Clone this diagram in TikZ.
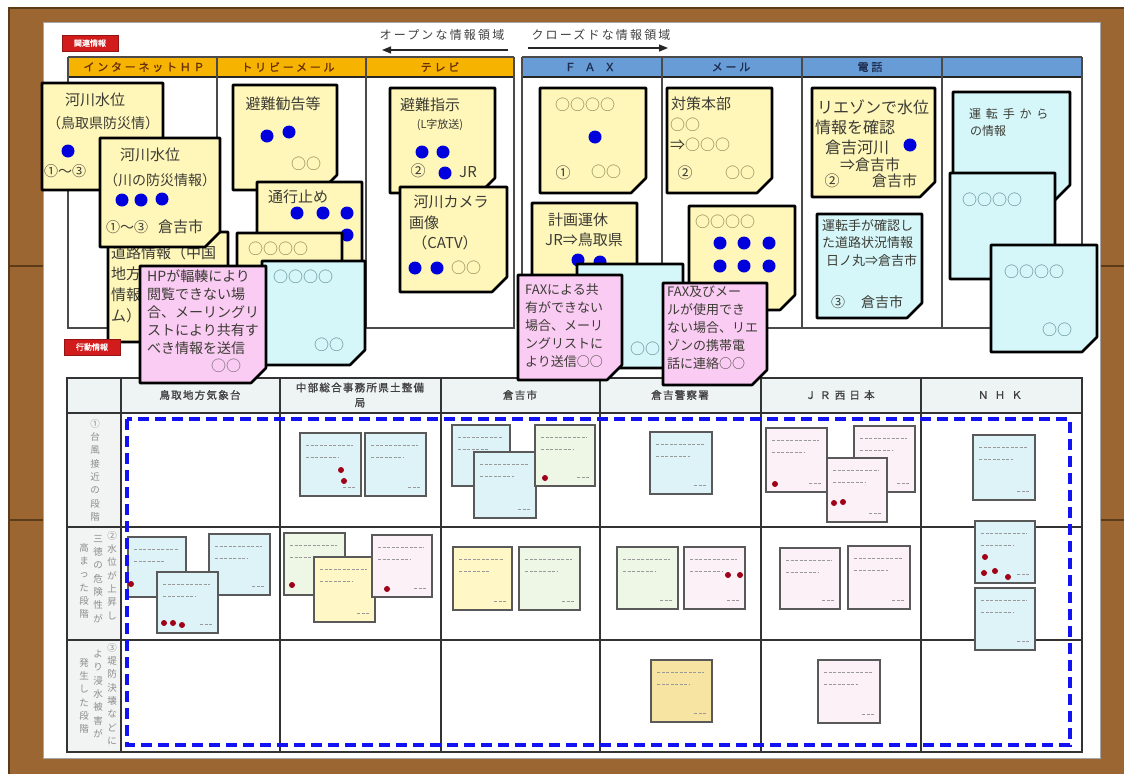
\documentclass[tikz,border=0pt]{standalone}
\usepackage{fontspec}
\setmainfont{Noto Sans CJK JP}
\newfontfamily\hdrf{Noto Sans CJK JP}[FakeBold=1.2]
\usetikzlibrary{arrows.meta}
\definecolor{corkbrown}{HTML}{9C6632}
\definecolor{corkdark}{HTML}{5E3B18}
\definecolor{noteyel}{HTML}{FFF6BA}
\definecolor{notecyan}{HTML}{D6F7FA}
\definecolor{notepink}{HTML}{FACBF3}
\definecolor{hdrorange}{HTML}{F6B400}
\definecolor{hdrblue}{HTML}{679CD6}
\definecolor{dotblue}{HTML}{0000DC}
\definecolor{tagred}{HTML}{D21C1C}
\definecolor{dashblue}{HTML}{1212F2}
\definecolor{ntext}{HTML}{3C3C34}
\definecolor{circyel}{HTML}{86864E}
\definecolor{circcyan}{HTML}{5E8C8E}
\definecolor{circpink}{HTML}{7A6A7A}
\definecolor{framegray}{HTML}{4A4A4A}
\definecolor{hdrtext}{HTML}{6A2E08}
\definecolor{hdrtextb}{HTML}{1E2E50}
\definecolor{tblhead}{HTML}{EEF3F3}
\definecolor{tbllab}{HTML}{F2F4F3}
\definecolor{labgray}{HTML}{8C8C8C}
\definecolor{smyel}{HTML}{FFF7C6}
\definecolor{smcyan}{HTML}{DDF3F7}
\definecolor{smpink}{HTML}{FBF1F6}
\definecolor{smgreen}{HTML}{EEF6E6}
\definecolor{smorange}{HTML}{F7E3A2}
\definecolor{reddot}{HTML}{A00018}
\tikzset{
  stnote/.style={draw=black,line width=2.6pt,line join=round},
  smnote/.style={draw=black!65,line width=1.3pt},
  scrib/.style={draw=black!40,line width=1pt,dash pattern=on 3pt off 1.5pt},
  nt/.style={inner sep=0pt,text=ntext,font=\fontsize{15}{18}\selectfont},
  circy/.style={inner sep=0pt,text=circyel,font=\fontsize{15}{18}\selectfont},
  circc/.style={inner sep=0pt,text=circcyan,font=\fontsize{15}{18}\selectfont},
  circp/.style={inner sep=0pt,text=circpink,font=\fontsize{15}{18}\selectfont},
  hdrlab/.style={inner sep=0pt,font={\hdrf\fontsize{11}{13}\selectfont\addfontfeature{LetterSpace=25}}},
  tblhdr/.style={inner sep=0pt,text=black!75,align=center,font={\hdrf\fontsize{10.5}{15}\selectfont\addfontfeature{LetterSpace=12}}},
  toptext/.style={inner sep=0pt,text=black!75,font={\fontsize{12}{14}\selectfont\addfontfeature{LetterSpace=18}}},
  tagbox/.style={fill=tagred,draw=tagred!70!black,line width=0.8pt,text=white,minimum width=56pt,minimum height=16pt,inner sep=0pt,font={\hdrf\fontsize{8}{9}\selectfont}},
  arr/.style={draw=black!85,line width=1.2pt,-{Triangle[length=9pt,width=7pt]}},
  frame/.style={draw=framegray,line width=1.5pt},
  tline/.style={draw=black!80,line width=1.5pt},
  vlab/.style={inner sep=0pt,text=labgray,align=center,font=\fontsize{9.5}{13.3}\selectfont},
  dashrect/.style={draw=dashblue,line width=3.2pt,dash pattern=on 11pt off 6pt}
}
\newcommand\stnote[5]{\draw[stnote,fill=#5] (#1,#2) -- (#3,#2) -- (#3,#4-15) -- (#3-15,#4) -- (#1,#4) -- cycle;}
\newcommand\smnote[5]{%
  \draw[smnote,fill=#5] (#1,#2) rectangle (#3,#4);
  \draw[scrib] (#1+6,#2+12) -- (#3-8,#2+12);
  \draw[scrib] (#1+6,#2+24) -- (#3-22,#2+24);
  \draw[scrib] (#3-18,#4-9) -- (#3-6,#4-9);}
\newcommand\bdot[2]{\fill[dotblue] (#1,#2) circle (6.5pt);}
\newcommand\rdot[2]{\fill[reddot] (#1,#2) circle (3pt);}
\begin{document}
\begin{tikzpicture}[x=1pt,y=-1pt]
\useasboundingbox (0,0) rectangle (1128,774);
\fill[white] (0,0) rectangle (1128,774);
% cork board
\fill[corkbrown] (9,8) rectangle (1124,774);
\draw[corkdark,line width=1.5pt] (9,774) -- (9,8) -- (1124,8);
\draw[corkdark,line width=1.5pt] (9,266) -- (43,266) (9,520) -- (43,520) (1100,266) -- (1124,266) (1100,520) -- (1124,520);
\fill[white] (43,22) rectangle (1100,758);
\draw[black!35,line width=0.8pt] (43,22) rectangle (1100,758);
% top arrows
\node[toptext] (open) at (442,35) {オープンな情報領域};
\node[toptext] (close) at (601,35) {クローズドな情報領域};
\coordinate (oa) at (508,50); \coordinate (ob) at (382,50);
\draw[arr] (oa) -- (ob);
\coordinate (ca) at (528,48); \coordinate (cb) at (668,48);
\draw[arr] (ca) -- (cb);
\node[tagbox] (tag1) at (90,43) {関連情報};
% header bars
\fill[hdrorange] (68,57) rectangle (514,77);
\fill[hdrblue] (522,57) rectangle (1082,77);
\draw[frame] (68,57) -- (514,57) (522,57) -- (1082,57);
\draw[draw=black!85,line width=2pt] (68,77) -- (514,77) (522,77) -- (1082,77);
\draw[frame] (68,57) -- (68,328) -- (514,328) -- (514,57);
\draw[frame] (217,57) -- (217,328) (366,57) -- (366,328);
\draw[frame] (522,57) -- (522,328) -- (1082,328) -- (1082,57);
\draw[frame] (662,57) -- (662,328) (802,57) -- (802,328) (942,57) -- (942,328);
\node[hdrlab,text=hdrtext] (h1) at (144,67) {インターネットＨＰ};
\node[hdrlab,text=hdrtext] (h2) at (288,67) {トリビーメール};
\node[hdrlab,text=hdrtext] (h3) at (440,67) {テレビ};
\node[hdrlab,text=hdrtextb,font={\hdrf\fontsize{11}{13}\selectfont\addfontfeature{LetterSpace=80}}] (h4) at (590,67) {ＦＡＸ};
\node[hdrlab,text=hdrtextb] (h5) at (731,67) {メール};
\node[hdrlab,text=hdrtextb] (h6) at (870,67) {電話};
% bottom table
\fill[tblhead] (67,378) rectangle (1082,413);
\fill[tbllab] (67,413) rectangle (121,752);
\draw[tline] (67,378) rectangle (1082,752);
\draw[tline] (67,413) -- (1082,413) (67,527) -- (1082,527) (67,640) -- (1082,640);
\draw[tline] (121,378) -- (121,752) (280,378) -- (280,752) (441,378) -- (441,752) (600,378) -- (600,752) (761,378) -- (761,752) (921,378) -- (921,752);
\node[tblhdr] (c1) at (200,395) {鳥取地方気象台};
\node[tblhdr] (c2) at (360,395) {中部総合事務所県土整備\\局};
\node[tblhdr] (c3) at (520,395) {倉吉市};
\node[tblhdr] (c4) at (680,395) {倉吉警察署};
\node[tblhdr,font={\hdrf\fontsize{10.5}{15}\selectfont\addfontfeature{LetterSpace=40}}] (c5) at (840,395) {ＪＲ西日本};
\node[tblhdr,font={\hdrf\fontsize{10.5}{15}\selectfont\addfontfeature{LetterSpace=60}}] (c6) at (1000,395) {ＮＨＫ};
\node[vlab,anchor=north] (rl1) at (95,419) {①\\台\\風\\接\\近\\の\\段\\階};
\node[vlab,anchor=north] (rl2a) at (112,531) {②\\水\\位\\が\\上\\昇\\し};
\node[vlab,anchor=north] (rl2b) at (98,535) {三\\徳\\の\\危\\険\\性\\が};
\node[vlab,anchor=north] (rl2c) at (84,543) {高\\ま\\っ\\た\\段\\階};
\node[vlab,anchor=north] (rl3a) at (112,643) {③\\堤\\防\\決\\壊\\な\\ど\\に};
\node[vlab,anchor=north] (rl3b) at (98,650) {よ\\り\\浸\\水\\被\\害\\が};
\node[vlab,anchor=north] (rl3c) at (84,658) {発\\生\\し\\た\\段\\階};
% small notes row 1
\smnote{300}{433}{361}{496}{smcyan}\rdot{341}{470}\rdot{344}{481}
\smnote{365}{433}{426}{496}{smcyan}
\smnote{452}{425}{510}{486}{smcyan}
\smnote{474}{452}{536}{518}{smcyan}
\smnote{535}{425}{595}{486}{smgreen}\rdot{545}{478}
\smnote{650}{432}{712}{494}{smcyan}
\smnote{766}{428}{827}{492}{smpink}\rdot{775}{484}
\smnote{854}{426}{915}{492}{smpink}
\smnote{827}{458}{887}{522}{smpink}\rdot{834}{503}\rdot{843}{502}
\smnote{973}{435}{1035}{500}{smcyan}
% row 2
\smnote{128}{537}{186}{597}{smcyan}\rdot{131}{584}
\smnote{209}{534}{270}{595}{smcyan}\rdot{214}{584}
\smnote{157}{572}{218}{633}{smcyan}\rdot{164}{623}\rdot{173}{623}\rdot{182}{625}
\smnote{284}{533}{345}{595}{smgreen}\rdot{292}{585}
\smnote{314}{557}{375}{622}{smyel}
\smnote{372}{535}{432}{597}{smpink}\rdot{387}{589}
\smnote{453}{547}{512}{610}{smyel}
\smnote{519}{547}{580}{610}{smgreen}
\smnote{617}{547}{678}{609}{smgreen}
\smnote{684}{547}{745}{609}{smpink}\rdot{728}{575}\rdot{740}{575}
\smnote{780}{548}{840}{609}{smpink}
\smnote{848}{546}{910}{609}{smpink}
\smnote{975}{521}{1035}{583}{smcyan}\rdot{985}{557}\rdot{984}{573}\rdot{995}{571}\rdot{1008}{577}
\smnote{975}{588}{1035}{650}{smcyan}
% row 3
\smnote{651}{660}{712}{722}{smorange}
\smnote{818}{660}{880}{723}{smpink}
% ===== top sticky notes =====
% A
\stnote{42}{83}{163}{190}{noteyel}
\node[nt] (a1) at (95,100) {河川水位};
\node[nt,font=\fontsize{14}{16}\selectfont] (a2) at (103,123) {（鳥取県防災情）};
\bdot{68}{151}
\node[nt,anchor=west,font=\fontsize{14}{16}\selectfont] (a3) at (44,171) {①～③};
% C (mostly covered; only the visible part of its text)
\stnote{108}{232}{228}{342}{noteyel}
\node[nt,anchor=north west,align=left,font=\fontsize{15}{21}\selectfont] (cc1) at (111,245) {道路情報（中国\\地方\\情報\\ム）};
% B
\stnote{100}{138}{220}{247}{noteyel}
\node[nt] (b1) at (150,155) {河川水位};
\node[nt,font=\fontsize{14}{16}\selectfont] (b2) at (160,180) {（川の防災情報）};
\bdot{122}{200}\bdot{141}{200}\bdot{162}{199}
\node[nt,anchor=west,font=\fontsize{14}{16}\selectfont] (b3) at (106,227) {①～③};
\node[nt,anchor=west] (b4) at (158,227) {倉吉市};
% E
\stnote{233}{85}{337}{190}{noteyel}
\node[nt] (e1) at (283,104) {避難勧告等};
\bdot{267}{136}\bdot{289}{132}
\node[circy] (e2) at (306,164) {○○};
% F
\stnote{257}{182}{362}{290}{noteyel}
\node[nt] (f1) at (298,197) {通行止め};
\bdot{297}{213}\bdot{323}{213}\bdot{347}{213}\bdot{347}{235}
% G
\stnote{237}{233}{342}{330}{noteyel}
\node[circy] (g1) at (278,249) {○○○○};
% H
\stnote{262}{261}{365}{365}{notecyan}
\node[circc] (hh1) at (303,277) {○○○○};
\node[circc] (hh2) at (329,345) {○○};
% D
\stnote{140}{266}{266}{383}{notepink}
\node[nt,anchor=north west,align=left,font=\fontsize{14}{18}\selectfont] (d1) at (147,269) {HPが輻輳により\\閲覧できない場\\合、メーリングリ\\ストにより共有す\\べき情報を送信};
\node[circp] (d2) at (226,366) {○○};
% I
\stnote{390}{88}{495}{193}{noteyel}
\node[nt] (i1) at (430,105) {避難指示};
\node[nt,font=\fontsize{11}{13}\selectfont] (i2) at (440,125) {(L字放送)};
\bdot{422}{152}\bdot{443}{152}
\node[nt] (i3) at (418,171) {②};
\bdot{445}{173}
\node[nt] (i4) at (468,172) {JR};
% J
\stnote{400}{187}{507}{292}{noteyel}
\node[nt] (j1) at (451,202) {河川カメラ};
\node[nt,anchor=west] (j2) at (409,223) {画像};
\node[nt] (j3) at (445,243) {（CATV）};
\bdot{415}{268}\bdot{437}{268}
\node[circy] (j4) at (466,268) {○○};
% K
\stnote{540}{88}{646}{193}{noteyel}
\node[circy] (k1) at (585,105) {○○○○};
\bdot{595}{137}
\node[nt] (k2) at (563,173) {①};
\node[circy] (k3) at (606,172) {○○};
% L
\stnote{532}{203}{637}{300}{noteyel}
\node[nt] (l1) at (578,220) {計画運休};
\node[nt] (l2) at (584,240) {JR⇒鳥取県};
\bdot{578}{260}\bdot{600}{262}
% M
\stnote{577}{264}{683}{368}{notecyan}
\node[circc] (m1) at (645,349) {○○};
% N
\stnote{518}{275}{622}{380}{notepink}
\node[nt,anchor=north west,align=left,font=\fontsize{13}{18}\selectfont] (n1) at (525,283) {FAXによる共\\有ができない\\場合、メーリ\\ングリストに\\より送信○○};
% O
\stnote{667}{88}{772}{193}{noteyel}
\node[nt,anchor=west] (o1) at (671,104) {対策本部};
\node[circy,anchor=west] (o2) at (670,125) {○○};
\node[nt,anchor=west] (o3) at (670,145) {⇒\textcolor{circyel}{○○○}};
\node[nt] (o4) at (685,173) {②};
\node[circy] (o5) at (740,173) {○○};
% Q
\stnote{689}{206}{795}{310}{noteyel}
\node[circy,anchor=west] (q1) at (695,222) {○○○○};
\bdot{720}{243}\bdot{744}{243}\bdot{769}{243}\bdot{720}{266}\bdot{744}{266}\bdot{769}{266}
% P
\stnote{663}{283}{767}{385}{notepink}
\node[nt,anchor=north west,align=left,font=\fontsize{13}{18}\selectfont] (p1) at (667,286) {FAX及びメー\\ルが使用でき\\ない場合、リエ\\ゾンの携帯電\\話に連絡○○};
% R
\stnote{812}{88}{935}{197}{noteyel}
\node[nt,font=\fontsize{16}{18}\selectfont] (r1) at (873,107) {リエゾンで水位};
\node[nt,anchor=west,font=\fontsize{16}{18}\selectfont] (r2) at (815,127) {情報を確認};
\node[nt,anchor=west,font=\fontsize{16}{18}\selectfont] (r3) at (825,147) {倉吉河川};
\bdot{910}{145}
\node[nt,anchor=west] (r4) at (840,165) {⇒倉吉市};
\node[nt] (r5) at (832,181) {②};
\node[nt,anchor=west] (r6) at (872,181) {倉吉市};
% S
\stnote{817}{214}{922}{318}{notecyan}
\node[nt,anchor=west,font=\fontsize{13}{15}\selectfont] (s1) at (822,226) {運転手が確認し};
\node[nt,anchor=west,font=\fontsize{13}{15}\selectfont] (s2) at (822,243) {た道路状況情報};
\node[nt,anchor=west,font=\fontsize{13}{15}\selectfont] (s3) at (826,261) {日ノ丸⇒倉吉市};
\node[nt,font=\fontsize{14}{15}\selectfont] (s4) at (838,302) {③};
\node[nt,anchor=west,font=\fontsize{14}{15}\selectfont] (s5) at (861,302) {倉吉市};
% T
\stnote{953}{92}{1070}{200}{notecyan}
\node[nt,anchor=west,font={\fontsize{12}{14}\selectfont\addfontfeature{LetterSpace=40}}] (t1) at (969,114) {運転手から};
\node[nt,anchor=west,font=\fontsize{12}{14}\selectfont] (t2) at (970,131) {の情報};
% U
\stnote{950}{173}{1055}{279}{notecyan}
\node[circc] (u1) at (992,200) {○○○○};
% V
\stnote{991}{245}{1097}{352}{notecyan}
\node[circc] (v1) at (1034,272) {○○○○};
\node[circc] (v2) at (1057,330) {○○};
% tag 2
\node[tagbox] (tag2) at (92,347) {行動情報};
% dashed region
\draw[dashrect] (127,419) rectangle (1070,745);
\end{tikzpicture}
\end{document}
